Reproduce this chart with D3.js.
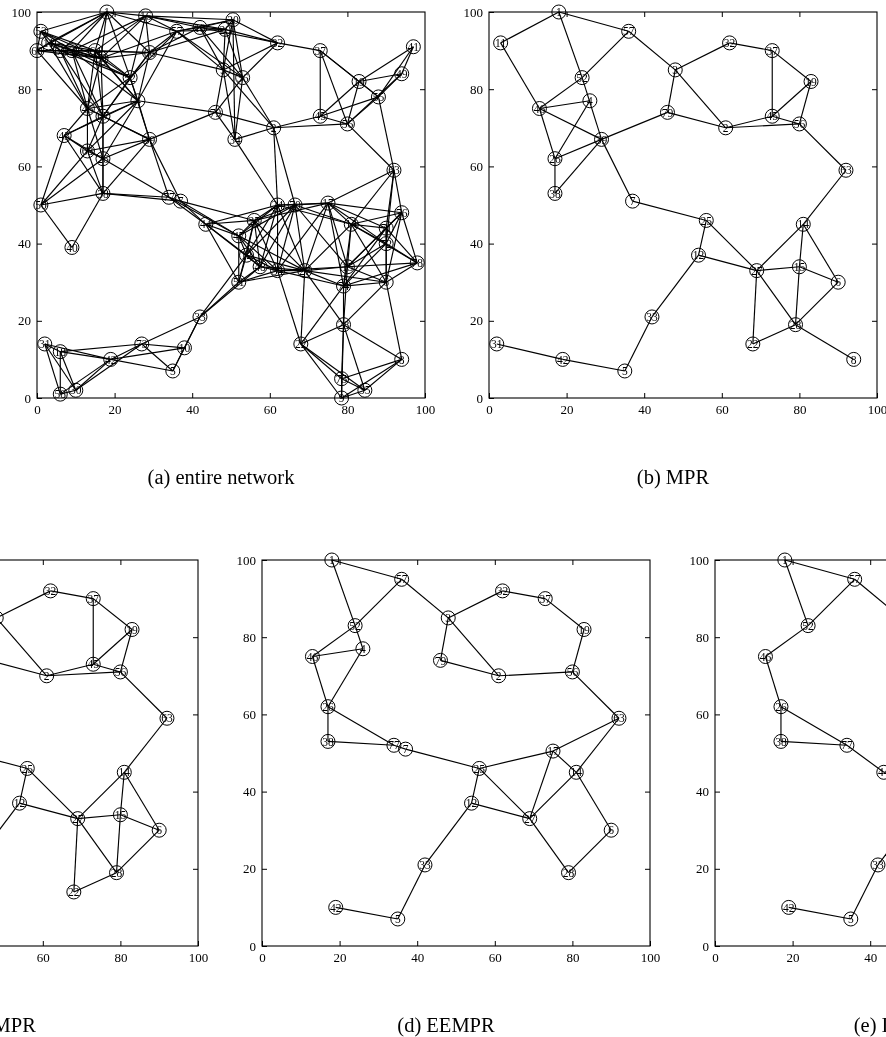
<!DOCTYPE html>
<html><head><meta charset="utf-8">
<script src="https://cdn.jsdelivr.net/npm/d3@7"></script>
<style>body{margin:0;background:#fff}svg{display:block;opacity:0.999;will-change:transform}</style>
</head><body>
<svg id="chart" width="886" height="1037"></svg>
<script>
// ---------- DATA ----------
const nodeLabel = ["1","16","53","60","11","61","62","64","69","66","57","13","29","20","3","36","52","4","46","67","43","39","68","26","38","50","40","77","7","79","34","2","32","37","19","45","56","41","49","55","63","44","25","47","12","48","51","54","27","24","70","17","14","76","71","72","78","15","74","6","33","28","22","8","75","9","35","31","18","73","10","5","42","58","30"];
const nodeX = [18,28,1,0,3,6,9,15,16.5,29,36,42,48.5,50.5,48,53,24,26,13,17,7,29,13,17,17,1,9,34,37,46,51,61,62,73,83,73,80,97,94,88,92,43.5,56,52,54,57.5,52,62,69,62,66.5,75,81,94,90,90,98,80,79,90,42,79,68,94,78.5,78.5,84.5,2,6,27,38,35,19,6,10];
const nodeY = [100,99,95,90,92,90,90,90,88,89.5,95,96,95.5,98,85,83,83,77,75,73,68,67,64,62,53,50,39,52,51,74,67,70,92,90,82,73,71,91,84,78,59,45,46,42,37,34,30,33,33,50,50,50.5,45,48,44,40,35,34,29,30,21,19,14,10,5,0,2,14,12,14,13,7,10,1,2];

const edgesEntire = [
"1-16","1-53","1-60","1-11","1-61","1-62","1-64","1-69","1-66","1-57","1-52",
"16-64","16-69","16-66","16-57","16-13","16-52","16-62","16-29","16-20",
"53-60","53-11","53-61","53-62","53-64","53-69",
"60-11","60-61","60-62","60-64","60-69","60-46",
"11-61","11-62","11-64","11-69","11-46",
"61-62","61-64","61-69","61-52","61-46","61-67",
"62-64","62-69","62-66","62-52","62-46","62-67","62-4",
"64-69","64-66","64-52","64-4","64-46","64-67",
"69-66","69-57","69-52","69-4","69-46","69-67",
"66-57","66-13","66-29","66-3","66-52","66-4","66-67",
"57-13","57-29","57-20","57-3","57-36","57-52","57-4",
"13-29","13-20","13-3","13-36","13-32",
"29-20","29-3","29-36","29-32",
"20-3","20-36","20-32","20-34",
"3-36","3-79","3-34","3-2","3-32",
"36-79","36-34","36-2","36-32",
"52-4","52-46","52-67","52-39",
"4-46","4-67","4-43","4-39","4-68","4-26","4-79",
"46-67","46-43","46-39","46-68","46-26",
"67-43","67-39","67-68","67-26","67-38",
"43-68","43-26","43-38","43-50",
"39-68","39-26","39-38","39-77","39-7","39-79",
"68-26","68-38","68-50",
"26-38","26-50","26-77",
"38-50","38-40","38-77","38-7",
"50-40",
"77-7","77-44","77-47",
"7-44","7-25","7-47",
"79-34","79-2",
"34-2","34-24",
"2-45","2-56","2-24","2-70",
"32-37",
"37-45","37-19","37-56","37-55",
"19-45","19-56","19-55","19-49","19-41",
"45-56","45-55",
"56-55","56-49","56-63",
"41-49","41-55","49-55","55-63",
"63-17","63-14","63-76","63-71","63-72",
"44-25","44-47","44-12","44-48","44-51","44-24",
"25-47","25-12","25-48","25-51","25-54","25-27","25-24","25-70","25-17",
"47-12","47-48","47-51","47-54","47-27","47-24","47-70",
"12-48","12-51","12-54","12-27","12-24","12-70","12-33",
"48-51","48-54","48-27","48-24","48-70","48-33",
"51-54","51-27","51-33",
"54-27","54-24","54-70","54-17","54-15","54-74","54-22",
"27-24","27-70","27-17","27-14","27-15","27-74","27-6","27-28","27-22",
"24-70","24-17","24-14",
"70-17","70-14","70-15",
"17-14","17-76","17-71","17-72","17-15","17-74",
"14-76","14-71","14-72","14-78","14-15","14-74","14-6",
"76-71","76-72","76-78","76-15","76-6",
"71-72","71-78","71-15","71-74","71-6",
"72-78","72-15","72-74","72-6",
"78-15","78-74","78-6",
"15-74","15-6","15-28",
"74-6","74-28","74-22",
"6-28","6-8",
"28-22","28-8","28-75","28-9","28-35",
"22-75","22-9","22-35",
"8-75","8-9","8-35",
"75-9","75-35","9-35",
"33-10","33-5","33-73",
"31-18","31-42","31-58","31-30",
"18-42","18-58","18-30","18-73",
"42-73","42-10","42-5","42-58","42-30",
"73-10","73-5","73-30",
"10-5","58-30"];

const nodesMPR = ["1","11","57","52","4","46","39","26","38","7","79","3","33","31","42","5","32","37","19","45","56","2","63","25","14","12","27","15","6","28","22","8"];
const edgesMPR = ["1-11","1-57","1-52","52-39","39-7","11-46","46-52","52-57","46-4","46-39","46-26","26-4","26-38","26-39","38-39","39-79","79-3","57-3","3-32","3-2","79-2","32-37","37-19","37-45","45-19","2-45","2-56","45-56","56-19","56-63","63-14","14-15","15-28","14-6","14-27","7-25","25-12","25-27","12-27","27-15","15-6","27-22","27-28","28-6","28-22","28-8","12-33","33-5","5-42","42-31"];

const nodesC = ["1","11","57","52","39","46","26","38","7","79","3","32","37","19","45","56","2","63","25","14","12","27","15","6","28","22","33","5","42"];
const edgesC = ["1-11","1-57","1-52","52-39","39-7","11-46","46-52","52-57","46-26","26-38","39-79","79-3","57-3","3-32","3-2","79-2","32-37","37-45","37-19","19-45","19-56","45-2","45-56","2-56","56-63","63-14","14-15","15-28","14-6","14-27","27-15","15-6","6-28","27-28","27-22","22-28","25-12","25-27","12-27","7-25","33-12","33-5","5-42"];

const nodesEEMPR = ["1","57","52","4","46","26","38","77","7","3","79","32","37","19","56","2","63","17","25","14","12","27","6","28","33","42","5"];
const edgesEEMPR = ["1-57","1-52","52-4","57-52","52-46","46-4","46-26","26-4","26-38","26-77","77-7","38-77","7-25","57-3","3-79","3-32","3-2","79-2","32-37","37-19","19-56","56-2","56-63","63-17","63-14","14-27","17-14","17-25","17-27","25-27","25-12","12-27","14-6","6-28","27-28","12-33","33-5","5-42"];

const nodesE = ["1","57","52","46","26","38","77","44","33","42","5","3","12","25"];
const edgesE = ["1-57","1-52","57-52","52-46","46-26","26-38","26-77","77-44","38-77","57-3","33-12","33-5","5-42","44-25","12-25"];

const tickValues = [0,20,40,60,80,100];
const captions = ["(a) entire network","(b) MPR","(c) EMPR","(d) EEMPR","(e) IEMPR"];

// ---------- LAYOUT ----------
const W = 388, H = 386;
const panels = [
  {x0:37,  y0:12,  nodes:nodeLabel, edges:edgesEntire, cap:captions[0]},
  {x0:489, y0:12,  nodes:nodesMPR,  edges:edgesMPR,    cap:captions[1]},
  {x0:-190,y0:560, nodes:nodesC,    edges:edgesC,      cap:captions[2]},
  {x0:262, y0:560, nodes:nodesEEMPR,edges:edgesEEMPR,  cap:captions[3]},
  {x0:715, y0:560, nodes:nodesE,    edges:edgesE,      cap:captions[4]}
];
const font = "'Liberation Serif','Times New Roman',serif";
const pos = {};
nodeLabel.forEach((l,i)=>{pos[l]=[nodeX[i],nodeY[i]];});

const svg = d3.select("#chart");
svg.append("rect").attr("width",886).attr("height",1037).attr("fill","#fff");

panels.forEach(p=>{
  const x = d3.scaleLinear().domain([0,100]).range([p.x0,p.x0+W]);
  const y = d3.scaleLinear().domain([0,100]).range([p.y0+H,p.y0]);
  const g = svg.append("g");

  const styleAxis = sel=>{
    sel.selectAll("path.domain").remove();
    sel.selectAll("line").attr("stroke","#000").attr("stroke-width",1);
    sel.selectAll("text").attr("font-family",font).attr("font-size",13).attr("fill","#000");
  };
  g.append("g").attr("transform",`translate(0,${y(0)})`)
    .call(d3.axisBottom(x).tickValues(tickValues).tickSize(-5).tickSizeOuter(0).tickPadding(7)).call(styleAxis);
  g.append("g").attr("transform",`translate(0,${y(100)})`)
    .call(d3.axisTop(x).tickValues(tickValues.slice(1,-1)).tickSize(-5).tickSizeOuter(0).tickFormat("")).call(styleAxis);
  g.append("g").attr("transform",`translate(${x(0)},0)`)
    .call(d3.axisLeft(y).tickValues(tickValues).tickSize(-5).tickSizeOuter(0).tickPadding(6)).call(styleAxis);
  g.append("g").attr("transform",`translate(${x(100)},0)`)
    .call(d3.axisRight(y).tickValues(tickValues.slice(1,-1)).tickSize(-5).tickSizeOuter(0).tickFormat("")).call(styleAxis);
  g.append("rect").attr("x",x(0)).attr("y",y(100)).attr("width",W).attr("height",H)
    .attr("fill","none").attr("stroke","#000").attr("stroke-width",1.1);

  g.append("g").selectAll("line").data(p.edges).join("line")
    .attr("x1",e=>x(pos[e.split("-")[0]][0])).attr("y1",e=>y(pos[e.split("-")[0]][1]))
    .attr("x2",e=>x(pos[e.split("-")[1]][0])).attr("y2",e=>y(pos[e.split("-")[1]][1]))
    .attr("stroke","#000").attr("stroke-width",1.15);

  const ng = g.append("g").selectAll("g").data(p.nodes).join("g")
    .attr("transform",l=>`translate(${x(pos[l][0])},${y(pos[l][1])})`);
  ng.append("circle").attr("r",7).attr("fill","none").attr("stroke","#000").attr("stroke-width",1);
  ng.append("text").text(l=>l).attr("text-anchor","middle").attr("dy","0.36em")
    .attr("font-family",font).attr("font-size",11.5).attr("fill","#000");

  svg.append("text").attr("x",x(50)-10).attr("y",y(0)+86)
    .attr("text-anchor","middle").attr("font-family",font).attr("font-size",20.5)
    .attr("fill","#000").text(p.cap);
});
</script>
</body></html>
